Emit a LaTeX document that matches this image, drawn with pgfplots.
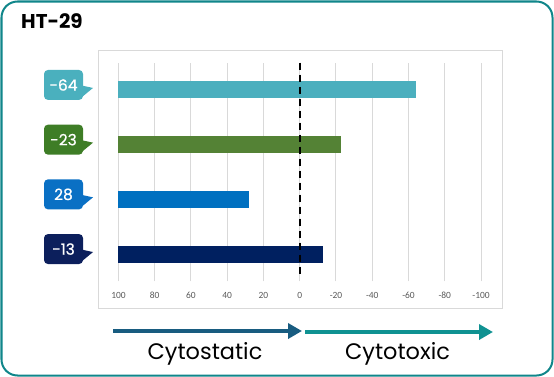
\documentclass[border=0pt]{standalone}
\usepackage{pgfplots}
\pgfplotsset{compat=1.18}
\usepackage{fontspec}
\setmainfont{Poppins}
\newfontfamily\tickfont{Carlito}
\newfontfamily\medfont{Poppins}[FakeBold=0.6]
\usetikzlibrary{arrows.meta}
\definecolor{border}{RGB}{16,134,138}
\definecolor{framegray}{RGB}{217,217,217}
\definecolor{gridgray}{RGB}{217,217,217}
\definecolor{tickgray}{RGB}{89,89,89}
\definecolor{cA}{RGB}{75,175,190}
\definecolor{cB}{RGB}{84,130,53}
\definecolor{cC}{RGB}{0,112,192}
\definecolor{cD}{RGB}{0,32,96}
\definecolor{kA}{RGB}{74,176,190}
\definecolor{kB}{RGB}{62,125,38}
\definecolor{kC}{RGB}{10,112,196}
\definecolor{kD}{RGB}{12,31,92}
\definecolor{arrowdark}{RGB}{24,92,128}
\definecolor{arrowteal}{RGB}{16,146,146}
\newcommand\callout[3]{%
  \fill[#1] ([shift={(-37bp,4.5bp)}]#2) -- ([shift={(-25.5bp,2bp)}]#2) -- ([shift={(-37bp,-7.5bp)}]#2) -- cycle;
  \node[fill=#1, text=white, rounded corners=4bp, minimum width=39bp, minimum height=30bp, inner sep=0pt, font=\medfont\fontsize{15.5}{17}\selectfont] at ([shift={(-55bp,5bp)}]#2) {#3};
}
\begin{document}
\begin{tikzpicture}
\useasboundingbox (0bp,0bp) rectangle (554bp,-377bp);
\draw[border, line width=2bp, rounded corners=16bp] (1.5bp,-1.5bp) rectangle (552.5bp,-375.5bp);
\node[anchor=base west, font=\fontsize{20}{24}\selectfont\bfseries, inner sep=0pt] at (21bp,-28bp) {HT-29};
\draw[framegray, line width=1bp] (98bp,-50bp) rectangle (502bp,-308bp);
\begin{axis}[
  at={(118.5bp,-281.4bp)}, anchor=south west,
  scale only axis, width=362.5bp, height=218.8bp,
  x dir=reverse, xmin=-100, xmax=100, ymin=0.5, ymax=4.5,
  enlargelimits=false,
  xtick={-100,-80,...,100}, ytick=\empty,
  axis line style={draw=none}, major tick length=0pt,
  xmajorgrids, grid style={gridgray, line width=1bp},
  /pgf/number format/assume math mode=true,
  xticklabel style={font=\tickfont\fontsize{9.5}{11}\selectfont, text=tickgray, anchor=center, yshift=-13.6bp},
  clip=false,
]
\addplot[fill=cA, draw=none] coordinates {(100,3.845) (-64,3.845) (-64,4.155) (100,4.155)} -- cycle;
\addplot[fill=cB, draw=none] coordinates {(100,2.845) (-23,2.845) (-23,3.155) (100,3.155)} -- cycle;
\addplot[fill=cC, draw=none] coordinates {(100,1.845) (28,1.845) (28,2.155) (100,2.155)} -- cycle;
\addplot[fill=cD, draw=none] coordinates {(100,0.845) (-13,0.845) (-13,1.155) (100,1.155)} -- cycle;
\addplot[black, line width=1.8bp, dash pattern=on 7bp off 5bp] coordinates {(0,4.5) (0,0.62)};
\coordinate (p4) at (axis cs:100,4);
\coordinate (p3) at (axis cs:100,3);
\coordinate (p2) at (axis cs:100,2);
\coordinate (p1) at (axis cs:100,1);
\end{axis}
\callout{kA}{p4}{-64}
\callout{kB}{p3}{-23}
\callout{kC}{p2}{28}
\callout{kD}{p1}{-13}
\draw[arrowdark, line width=4.5bp, -{Triangle[length=14bp,width=15bp]}] (113bp,-331bp) -- (302bp,-331bp);
\draw[arrowteal, line width=4.5bp, -{Triangle[length=14bp,width=15bp]}] (305bp,-332bp) -- (493bp,-332bp);
\node[anchor=base, font=\fontsize{22.5}{26}\selectfont, inner sep=0pt] at (205bp,-359bp) {Cytostatic};
\node[anchor=base, font=\fontsize{22.5}{26}\selectfont, inner sep=0pt] at (397.5bp,-359bp) {Cytotoxic};
\end{tikzpicture}
\end{document}
